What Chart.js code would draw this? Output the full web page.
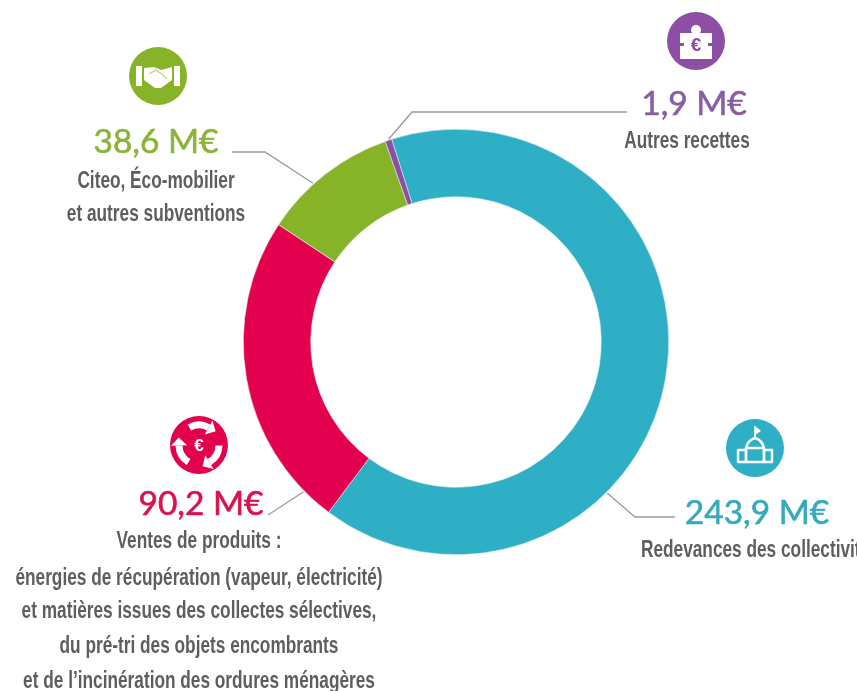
<!DOCTYPE html>
<html lang="fr">
<head>
<meta charset="utf-8">
<style>html,body{margin:0;padding:0;background:#fff;overflow:hidden}#wrap{position:relative;width:857px;height:691px}</style>
<script src="https://cdn.jsdelivr.net/npm/chart.js@4"></script>
</head>
<body>
<div id="wrap"><canvas id="c" width="857" height="691"></canvas></div>
<script>
const categories = ["Redevances des collectivités", "Ventes de produits", "Citeo, Éco-mobilier et autres subventions", "Autres recettes"];
const values = [243.9, 90.2, 38.6, 1.9];
const colors = ["#2eafc6", "#e3004f", "#86b327", "#8c4fa3"];
const textColors = ["#37a9bd", "#d9124f", "#8cb43c", "#8a5ea3"];
const descriptions = [
  ["Redevances des collectivités"],
  ["Ventes de produits :", "énergies de récupération (vapeur, électricité)", "et matières issues des collectes sélectives,", "du pré-tri des objets encombrants", "et de l’incinération des ordures ménagères"],
  ["Citeo, Éco-mobilier", "et autres subventions"],
  ["Autres recettes"]
];
const iconPos = [[755, 448], [199, 445], [158, 76], [696, 41]];
const valuePos = [[757, 524], [201, 515], [156, 153], [694, 115]];
const descPos = [[[641, 557, "left"]], [[199, 548], [199, 585], [199, 618], [199, 653], [199, 688]], [[156, 188], [156, 221]], [[687, 148]]];
const leaderAngles = [135, 225.5, 318, 341.6];
const leaderPaths = [[[635, 517], [675, 517]], [[268, 515]], [[265, 152], [232, 152]], [[412, 112], [627, 112]]];

function fmt(v) { return v.toFixed(1).replace(".", ",") + " M€"; }

function iconBuilding(x, y, c) {
  c.strokeStyle = "#fff"; c.lineWidth = 2.4; c.lineJoin = "round";
  c.strokeRect(x - 17, y + 2, 8, 12);
  c.strokeRect(x + 9, y + 2, 8, 12);
  c.strokeRect(x - 9, y, 18, 14);
  c.beginPath(); c.moveTo(x - 9, y); c.quadraticCurveTo(x - 7, y - 8, x, y - 10); c.quadraticCurveTo(x + 7, y - 8, x + 9, y); c.stroke();
  c.lineWidth = 1.8; c.beginPath(); c.moveTo(x, y - 10); c.lineTo(x, y - 22); c.stroke();
  c.fillStyle = "#fff"; c.beginPath(); c.moveTo(x, y - 22); c.lineTo(x + 6, y - 17); c.lineTo(x, y - 13); c.fill();
}
function iconRecycle(x, y, c) {
  c.strokeStyle = "#fff"; c.fillStyle = "#fff"; c.lineWidth = 7;
  [-90, 30, 150].forEach(a => {
    const r = a * Math.PI / 180, s = 0.5;
    c.beginPath(); c.arc(x, y, 20, r - s, r + s); c.stroke();
    const e = r + s, ex = x + 20 * Math.cos(e), ey = y + 20 * Math.sin(e);
    c.beginPath();
    c.moveTo(ex + 8 * Math.cos(e), ey + 8 * Math.sin(e));
    c.lineTo(ex - 8 * Math.cos(e), ey - 8 * Math.sin(e));
    c.lineTo(ex + 8 * Math.cos(e + Math.PI / 2), ey + 8 * Math.sin(e + Math.PI / 2));
    c.fill();
  });
  c.font = "bold 17px 'Liberation Sans'"; c.textAlign = "center"; c.fillText("€", x, y + 6);
}
function iconHands(x, y, c) {
  c.fillStyle = "#fff";
  c.fillRect(x - 22, y - 10, 6, 20); c.fillRect(x + 16, y - 10, 6, 20);
  c.beginPath();
  c.moveTo(x - 14, y - 8); c.lineTo(x - 4, y - 9); c.lineTo(x + 3, y - 6); c.lineTo(x + 14, y - 9);
  c.lineTo(x + 14, y + 4); c.lineTo(x + 3, y + 12); c.lineTo(x - 3, y + 12); c.lineTo(x - 14, y + 4);
  c.closePath(); c.fill();
  c.strokeStyle = "#b9d17f"; c.lineWidth = 1.2;
  c.beginPath(); c.moveTo(x - 9, y - 2); c.lineTo(x - 2, y - 6); c.lineTo(x + 5, y - 1); c.lineTo(x + 9, y + 3); c.stroke();
}
function iconPuzzle(x, y, c) {
  c.fillStyle = "#fff";
  c.fillRect(x - 16, y - 8, 32, 26);
  c.beginPath(); c.arc(x, y - 11, 5, 0, Math.PI * 2); c.fill();
  c.fillStyle = "#8c4fa3";
  c.fillRect(x - 17, y + 2, 5, 3); c.fillRect(x + 12, y + 2, 5, 3);
  c.font = "bold 19px 'Liberation Sans'"; c.textAlign = "center"; c.fillText("€", x, y + 10);
}
const iconDrawers = [iconBuilding, iconRecycle, iconHands, iconPuzzle];

const annotations = {
  id: "annotations",
  afterDraw(chart) {
    const c = chart.ctx, arc = chart.getDatasetMeta(0).data[0];
    c.save();
    c.lineWidth = 1.3; c.strokeStyle = "#9a9a9c";
    leaderAngles.forEach((deg, i) => {
      const a = (deg - 90) * Math.PI / 180, r = arc.outerRadius + 1;
      c.beginPath(); c.moveTo(arc.x + r * Math.cos(a), arc.y + r * Math.sin(a));
      leaderPaths[i].forEach(p => c.lineTo(p[0], p[1]));
      c.stroke();
    });
    values.forEach((v, i) => {
      const [ix, iy] = iconPos[i];
      c.fillStyle = colors[i]; c.beginPath(); c.arc(ix, iy, 29, 0, Math.PI * 2); c.fill();
      c.save(); iconDrawers[i](ix, iy, c); c.restore();
      c.fillStyle = textColors[i]; c.strokeStyle = textColors[i]; c.lineWidth = 0.6;
      c.textAlign = "center"; c.textBaseline = "alphabetic";
      c.font = "33.5px Lato, 'Open Sans', sans-serif";
      c.fillText(fmt(v), valuePos[i][0], valuePos[i][1]);
      c.strokeText(fmt(v), valuePos[i][0], valuePos[i][1]);
      c.fillStyle = "#5e5e60"; c.font = "bold 23px 'Liberation Sans', sans-serif";
      descriptions[i].forEach((line, j) => {
        const p = descPos[i][j];
        c.save();
        c.textAlign = p[2] || "center";
        c.translate(p[0], p[1]);
        c.scale(0.75, 1);
        c.fillText(line, 0, 0);
        c.restore();
      });
    });
    c.restore();
  }
};

new Chart(document.getElementById("c"), {
  type: "doughnut",
  data: { labels: categories, datasets: [{ data: values, backgroundColor: colors, borderColor: "#dfeef0", borderWidth: 0.6 }] },
  options: {
    responsive: false, animation: false, rotation: -17.6, cutout: "68.3%",
    layout: { padding: { left: 243, right: 188, top: 129, bottom: 136 } },
    plugins: { legend: { display: false }, tooltip: { enabled: false }, title: { display: false } }
  },
  plugins: [annotations]
});
</script>
</body>
</html>
